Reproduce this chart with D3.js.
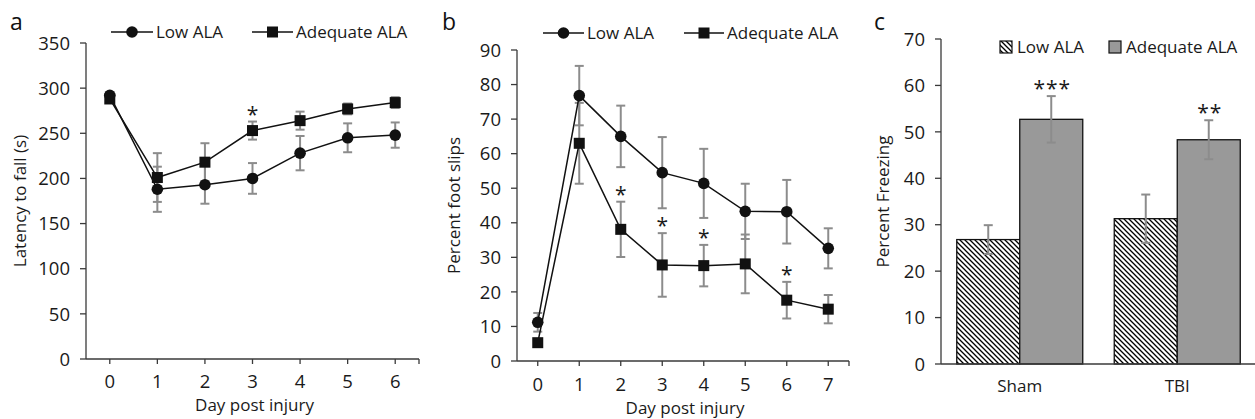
<!DOCTYPE html>
<html>
<head>
<meta charset="utf-8">
<script src="https://cdn.jsdelivr.net/npm/d3@7"></script>
<style>
  body { margin: 0; background: #fff; }
  svg { display: block; font-family: "Open Sans", sans-serif; }
</style>
</head>
<body>
<svg id="chart" width="1255" height="419"></svg>
<script>
// Panel a: latency to fall
const daysA = [0, 1, 2, 3, 4, 5, 6];
const lowA = [292, 188, 193, 200, 228, 245, 248];
const lowAErr = [3, 25, 21, 17, 19, 16, 14];
const adqA = [288, 201, 218, 253, 264, 277, 284];
const adqAErr = [3, 27, 21, 10, 10, 6, 6];
const sigA = [3];
const ticksA = [0, 50, 100, 150, 200, 250, 300, 350];

// Panel b: foot slips
const daysB = [0, 1, 2, 3, 4, 5, 6, 7];
const lowB = [11.2, 76.8, 65, 54.5, 51.4, 43.3, 43.2, 32.6];
const lowBErr = [2.7, 8.6, 8.9, 10.3, 10, 8, 9.2, 5.8];
const adqB = [5.3, 63, 38.1, 27.8, 27.6, 28.1, 17.6, 15];
const adqBErr = [1, 11.7, 8, 9.2, 6, 8.5, 5.3, 4.1];
const sigB = [2, 3, 4, 6];
const ticksB = [0, 10, 20, 30, 40, 50, 60, 70, 80, 90];

// Panel c: freezing
const groupsC = ['Sham', 'TBI'];
const lowC = [26.8, 31.3];
const lowCErr = [3.1, 5.2];
const adqC = [52.7, 48.3];
const adqCErr = [5, 4.2];
const sigC = ['***', '**'];
const ticksC = [0, 10, 20, 30, 40, 50, 60, 70];

const seriesNames = ['Low ALA', 'Adequate ALA'];

const svg = d3.select('#chart');
const axisColor = '#3a3a3a';
const errColor = '#8c8c8c';
const fontSize = 17;
const tickSize = 18.5;
const starSize = 21;

// hatch pattern for Low ALA bars
const defs = svg.append('defs');
defs.append('pattern')
    .attr('id', 'hatch')
    .attr('patternUnits', 'userSpaceOnUse')
    .attr('width', 5)
    .attr('height', 5)
    .append('path')
    .attr('d', 'M-1,-1L6,6M-1,4L1,6M4,-1L6,1')
    .attr('stroke', '#000')
    .attr('stroke-width', 1.3);

function yAxis(g, y, ticks, x0) {
    g.append('line')
        .attr('x1', x0).attr('x2', x0)
        .attr('y1', y.range()[0]).attr('y2', y.range()[1])
        .attr('stroke', axisColor).attr('stroke-width', 1.3);
    ticks.forEach(t => {
        g.append('line')
            .attr('x1', x0 - 6).attr('x2', x0)
            .attr('y1', y(t)).attr('y2', y(t))
            .attr('stroke', axisColor).attr('stroke-width', 1.3);
        g.append('text')
            .attr('x', x0 - 16).attr('y', y(t))
            .attr('dy', '0.36em')
            .attr('text-anchor', 'end')
            .attr('font-size', tickSize)
            .attr('fill', '#1a1a1a')
            .text(t);
    });
}

function xAxisLinear(g, x, y0, days, labelY) {
    g.append('line')
        .attr('x1', x.range()[0]).attr('x2', x.range()[1])
        .attr('y1', y0).attr('y2', y0)
        .attr('stroke', axisColor).attr('stroke-width', 1.3);
    days.concat([x.domain()[1]]).forEach(d => {
        g.append('line')
            .attr('x1', x(d)).attr('x2', x(d))
            .attr('y1', y0).attr('y2', y0 + 5)
            .attr('stroke', axisColor).attr('stroke-width', 1.3);
    });
    days.forEach(d => {
        g.append('text')
            .attr('x', x(d)).attr('y', labelY)
            .attr('text-anchor', 'middle')
            .attr('font-size', tickSize)
            .attr('fill', '#1a1a1a')
            .text(d);
    });
}

function errorBar(g, x, yLo, yHi) {
    g.append('line')
        .attr('x1', x).attr('x2', x).attr('y1', yLo).attr('y2', yHi)
        .attr('stroke', errColor).attr('stroke-width', 2);
    [yLo, yHi].forEach(yy => {
        g.append('line')
            .attr('x1', x - 4.5).attr('x2', x + 4.5).attr('y1', yy).attr('y2', yy)
            .attr('stroke', errColor).attr('stroke-width', 2);
    });
}

function marker(g, type, cx, cy) {
    if (type === 'circle') {
        g.append('circle').attr('cx', cx).attr('cy', cy).attr('r', 5.8).attr('fill', '#111');
    } else {
        g.append('rect').attr('x', cx - 5.5).attr('y', cy - 5.5)
            .attr('width', 11).attr('height', 11).attr('fill', '#111');
    }
}

function lineLegend(g, items, y) {
    items.forEach(it => {
        g.append('line')
            .attr('x1', it.x1).attr('x2', it.x2).attr('y1', y).attr('y2', y)
            .attr('stroke', '#111').attr('stroke-width', 1.5);
        marker(g, it.type, (it.x1 + it.x2) / 2, y);
        g.append('text')
            .attr('x', it.x2 + 3).attr('y', y).attr('dy', '0.36em')
            .attr('font-size', fontSize).attr('fill', '#1a1a1a')
            .text(it.name);
    });
}

function linePanel(opts) {
    const g = svg.append('g');
    const { x, y, days, series, sig, ticks } = opts;
    yAxis(g, y, ticks, x.range()[0]);
    xAxisLinear(g, x, y.range()[0], days, opts.tickLabelY);

    series.forEach(s => {
        days.forEach((d, i) => errorBar(g, x(d), y(s.values[i] - s.err[i]), y(s.values[i] + s.err[i])));
    });
    const line = d3.line().x((v, i) => x(days[i])).y(v => y(v));
    series.forEach(s => {
        g.append('path').attr('d', line(s.values))
            .attr('fill', 'none').attr('stroke', '#111').attr('stroke-width', 1.5);
    });
    series.forEach(s => {
        days.forEach((d, i) => marker(g, s.type, x(d), y(s.values[i])));
    });
    // significance marks above Adequate ALA error bars
    const adq = series[1];
    sig.forEach(d => {
        const i = days.indexOf(d);
        g.append('text')
            .attr('x', x(d)).attr('y', y(adq.values[i] + adq.err[i]))
            .attr('text-anchor', 'middle').attr('font-size', starSize)
            .attr('fill', '#1a1a1a').text('*');
    });

    // axis titles
    g.append('text')
        .attr('transform', `translate(${opts.yTitleX},${(y.range()[0] + y.range()[1]) / 2}) rotate(-90)`)
        .attr('text-anchor', 'middle').attr('font-size', fontSize).attr('fill', '#1a1a1a')
        .text(opts.yTitle);
    g.append('text')
        .attr('x', (x.range()[0] + x.range()[1]) / 2 + 2).attr('y', opts.xTitleY)
        .attr('text-anchor', 'middle').attr('font-size', fontSize).attr('fill', '#1a1a1a')
        .text('Day post injury');
    g.append('text')
        .attr('x', opts.letterX).attr('y', opts.letterY)
        .attr('font-size', 23).attr('fill', '#111').text(opts.letter);
    lineLegend(g, opts.legend, opts.legendY);
}

// ----- panel a -----
linePanel({
    x: d3.scaleLinear().domain([-0.5, 6.5]).range([86, 419]),
    y: d3.scaleLinear().domain([0, 350]).range([359, 43]),
    days: daysA,
    series: [
        { values: lowA, err: lowAErr, type: 'circle' },
        { values: adqA, err: adqAErr, type: 'square' }
    ],
    sig: sigA,
    ticks: ticksA,
    tickLabelY: 388,
    yTitle: 'Latency to fall (s)',
    yTitleX: 26,
    xTitleY: 411,
    letter: 'a', letterX: 10, letterY: 30,
    legendY: 32,
    legend: [
        { x1: 111, x2: 153, type: 'circle', name: seriesNames[0] },
        { x1: 252, x2: 293, type: 'square', name: seriesNames[1] }
    ]
});

// ----- panel b -----
linePanel({
    x: d3.scaleLinear().domain([-0.5, 7.5]).range([517, 849]),
    y: d3.scaleLinear().domain([0, 90]).range([361, 50]),
    days: daysB,
    series: [
        { values: lowB, err: lowBErr, type: 'circle' },
        { values: adqB, err: adqBErr, type: 'square' }
    ],
    sig: sigB,
    ticks: ticksB,
    tickLabelY: 391,
    yTitle: 'Percent foot slips',
    yTitleX: 460,
    xTitleY: 414,
    letter: 'b', letterX: 442, letterY: 30,
    legendY: 33,
    legend: [
        { x1: 543, x2: 584, type: 'circle', name: seriesNames[0] },
        { x1: 684, x2: 724, type: 'square', name: seriesNames[1] }
    ]
});

// ----- panel c -----
(function () {
    const g = svg.append('g');
    const x = d3.scaleBand().domain(groupsC).range([941, 1256]).paddingInner(0.2).paddingOuter(0.1);
    const x1 = d3.scaleBand().domain([0, 1]).range([0, x.bandwidth()]);
    const y = d3.scaleLinear().domain([0, 70]).range([364, 39]);

    yAxis(g, y, ticksC, 941);

    const vals = [lowC, adqC];
    const errs = [lowCErr, adqCErr];
    groupsC.forEach((grp, gi) => {
        [0, 1].forEach(s => {
            g.append('rect')
                .attr('x', x(grp) + x1(s)).attr('y', y(vals[s][gi]))
                .attr('width', x1.bandwidth()).attr('height', y(0) - y(vals[s][gi]))
                .attr('fill', s === 0 ? 'url(#hatch)' : '#999')
                .attr('stroke', '#111').attr('stroke-width', 1.3);
        });
    });
    // x axis
    g.append('line')
        .attr('x1', 941).attr('x2', 1256).attr('y1', y(0)).attr('y2', y(0))
        .attr('stroke', axisColor).attr('stroke-width', 1.3);
    groupsC.forEach((grp, gi) => {
        [0, 1].forEach(s => {
            const cx = x(grp) + x1(s) + x1.bandwidth() / 2;
            errorBar(g, cx, y(vals[s][gi] - errs[s][gi]), y(vals[s][gi] + errs[s][gi]));
        });
        const cx = x(grp) + x1(1) + x1.bandwidth() / 2;
        g.append('text')
            .attr('x', cx + 1).attr('y', y(adqC[gi] + adqCErr[gi]))
            .attr('text-anchor', 'middle').attr('font-size', starSize)
            .attr('letter-spacing', 1).attr('fill', '#1a1a1a')
            .text(sigC[gi]);
        g.append('text')
            .attr('x', x(grp) + x.bandwidth() / 2).attr('y', 392)
            .attr('text-anchor', 'middle').attr('font-size', fontSize).attr('fill', '#1a1a1a')
            .text(grp);
    });

    g.append('text')
        .attr('transform', `translate(889,${(y.range()[0] + y.range()[1]) / 2}) rotate(-90)`)
        .attr('text-anchor', 'middle').attr('font-size', fontSize).attr('fill', '#1a1a1a')
        .text('Percent Freezing');
    g.append('text')
        .attr('x', 874).attr('y', 30)
        .attr('font-size', 23).attr('fill', '#111').text('c');

    // legend
    const ly = 47;
    [{ x: 1000, fill: 'url(#hatch)' }, { x: 1109, fill: '#999' }].forEach((it, i) => {
        g.append('rect')
            .attr('x', it.x).attr('y', ly - 6).attr('width', 12).attr('height', 12)
            .attr('fill', it.fill).attr('stroke', '#111').attr('stroke-width', 1.2);
        g.append('text')
            .attr('x', it.x + 17).attr('y', ly).attr('dy', '0.36em')
            .attr('font-size', fontSize).attr('fill', '#1a1a1a')
            .text(seriesNames[i]);
    });
})();
</script>
</body>
</html>
